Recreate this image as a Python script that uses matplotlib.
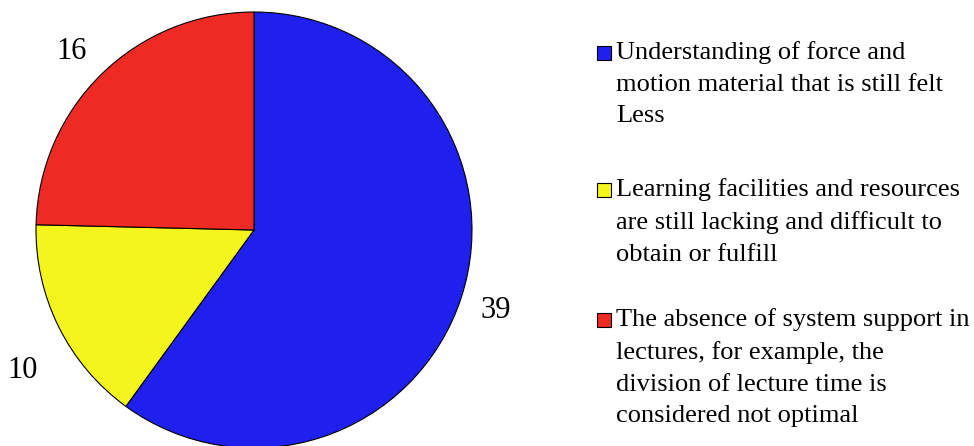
import numpy as np
import matplotlib.pyplot as plt
from matplotlib.patches import Rectangle

plt.rcParams['font.family'] = ['Liberation Serif', 'DejaVu Serif']

# survey counts, drawn clockwise from the top
categories = [
    "Understanding of force and\nmotion material that is still felt\nLess",
    "Learning facilities and resources\nare still lacking and difficult to\nobtain or fulfill",
    "The absence of system support in\nlectures, for example, the\ndivision of lecture time is\nconsidered not optimal",
]
values = [39, 10, 16]
colors = ['#2020EE', '#F5F51E', '#EE2A24']

W, H = 974, 446
fig = plt.figure(figsize=(W / 100, H / 100), dpi=100)

# pie centre (254, 230) px from top-left, radius 218 px
cx, cy, r = 254, 230, 218
ax = fig.add_axes([(cx - r) / W, (H - cy - r) / H, 2 * r / W, 2 * r / H])
wedges, _ = ax.pie(values, colors=colors, startangle=90, counterclock=False,
                   wedgeprops=dict(edgecolor='black', linewidth=0.8))
ax.set_xlim(-1, 1)
ax.set_ylim(-1, 1)
ax.set_aspect('equal')
ax.axis('off')

# value labels outside the slices (angle offset, distance)
label_tweaks = [(-0.3, 1.17), (5.0, 1.24), (1.2, 1.17)]
for w, v, (dang, dist) in zip(wedges, values, label_tweaks):
    ang = np.deg2rad((w.theta1 + w.theta2) / 2 + dang)
    ax.text(dist * np.cos(ang), dist * np.sin(ang), str(v), fontsize=22,
            ha='center', va='center', clip_on=False)

# legend drawn by hand so the swatch sits beside the first line
tops = [45, 182, 312]
for top, lab, col in zip(tops, categories, colors):
    fig.patches.append(Rectangle((597 / W, (H - top - 15) / H), 14 / W, 14 / H,
                                 transform=fig.transFigure, facecolor=col,
                                 edgecolor='black', linewidth=0.8))
    fig.text(616 / W, (H - top + 4) / H, lab, fontsize=19, ha='left', va='top',
             linespacing=1.56)

fig.savefig('out.png', dpi=100)
